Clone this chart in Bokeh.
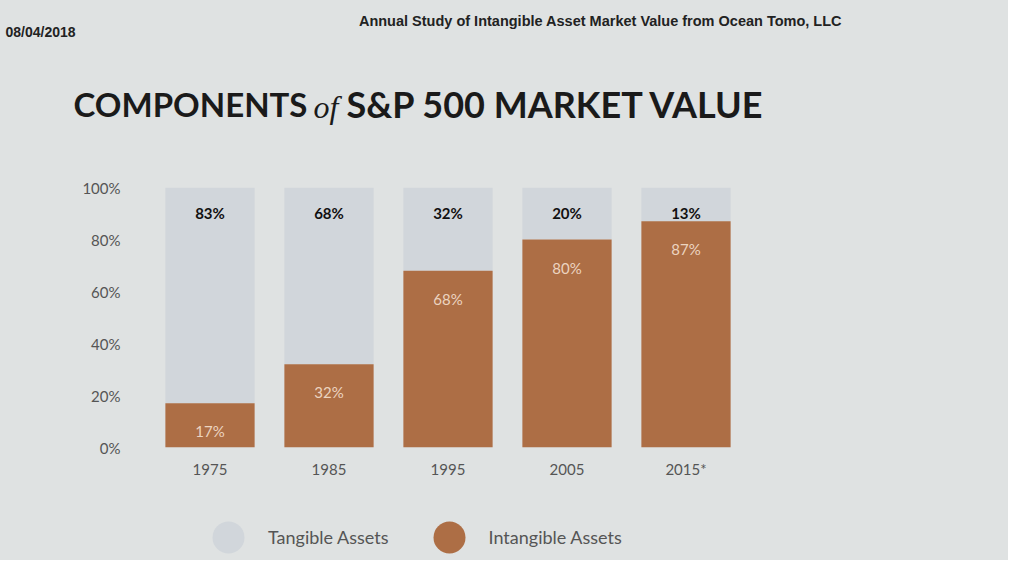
from bokeh.plotting import figure
from bokeh.layouts import column
from bokeh.models import (ColumnDataSource, FactorRange, Range1d, FixedTicker, Label,
                          Legend, LegendItem)
from bokeh.core.properties import value
from bokeh.embed import file_html
from bokeh.resources import INLINE

years = ["1975", "1985", "1995", "2005", "2015*"]
intangible = [17, 32, 68, 80, 87]
tangible = [83, 68, 32, 20, 13]
y_ticks = [0, 20, 40, 60, 80, 100]

BG = "#dfe2e2"
BROWN = "#ad6e45"
LIGHT = "#d1d6db"
W = 1008


def bare(fig):
    fig.background_fill_color = BG
    fig.border_fill_color = BG
    fig.outline_line_color = None
    fig.grid.visible = False
    fig.axis.visible = False
    return fig


# ---- header figure (texts only) ----
H_TOP = 170
top = bare(figure(width=W, height=H_TOP, x_range=Range1d(0, W), y_range=Range1d(H_TOP, 0),
                  output_backend="svg", toolbar_location=None,
                  min_border=0, min_border_left=0, min_border_right=0,
                  min_border_top=0, min_border_bottom=0))


def lab(x, y, text, **kw):
    top.add_layout(Label(x=x, y=y, text=text, text_baseline="middle", **kw))


lab(5, 31, "08/04/2018", text_font="Liberation Sans", text_font_style="bold",
    text_font_size="14px", text_color="#222222")
lab(600, 20, "Annual Study of Intangible Asset Market Value from Ocean Tomo, LLC",
    text_align="center", text_font="Liberation Sans", text_font_style="bold",
    text_font_size="14.5px", text_color="#222222")
lab(73, 103, "COMPONENTS", text_font="Lato", text_font_style="bold",
    text_font_size="33px", text_color="#1a1a1a")
lab(313, 106, "of", text_font="Liberation Serif", text_font_style="italic",
    text_font_size="32px", text_color="#1a1a1a")
lab(346, 103, "S&P 500 MARKET VALUE", text_font="Lato", text_font_style="bold",
    text_font_size="36px", text_color="#1a1a1a")

# ---- main chart ----
src = ColumnDataSource(data=dict(
    year=years,
    intangible=intangible,
    tangible=tangible,
    total=[a + b for a, b in zip(intangible, tangible)],
    ilab=[f"{v}%" for v in intangible],
    tlab=[f"{v}%" for v in tangible],
))

H_MAIN = 310
p = figure(width=W, height=H_MAIN, x_range=FactorRange(factors=years, range_padding=0),
           y_range=Range1d(0, 100), output_backend="svg", toolbar_location=None,
           min_border_left=150, min_border_right=W - 745, min_border_top=17,
           min_border_bottom=H_MAIN - 17 - 261)
p.background_fill_color = BG
p.border_fill_color = BG
p.outline_line_color = None
p.grid.visible = False

p.vbar(x="year", bottom="intangible", top="total", width=0.75, source=src,
       fill_color=LIGHT, line_color=None)
p.vbar(x="year", bottom=0, top="intangible", width=0.75, source=src,
       fill_color=BROWN, line_color=None)

p.text(x="year", y="total", text="tlab", source=src, y_offset=25,
       text_align="center", text_baseline="middle", text_font=value("Lato"),
       text_font_style="bold", text_font_size="15px", text_color="#111111")
p.text(x="year", y="intangible", text="ilab", source=src, y_offset=28,
       text_align="center", text_baseline="middle", text_font=value("Lato"),
       text_font_size="15px", text_color="#ecd4c0")

p.yaxis.ticker = FixedTicker(ticks=y_ticks)
p.yaxis.major_label_overrides = {t: f"{t}%" for t in y_ticks}
for ax in (p.xaxis, p.yaxis):
    ax.axis_line_color = None
    ax.major_tick_line_color = None
    ax.minor_tick_line_color = None
    ax.major_label_text_font = "Lato"
    ax.major_label_text_font_size = "15px"
    ax.major_label_text_color = "#555555"
p.yaxis.major_label_standoff = 24
p.xaxis.major_label_standoff = 6

# ---- legend strip ----
H_LEG = 560 - H_TOP - H_MAIN
leg = bare(figure(width=W, height=H_LEG, x_range=Range1d(0, 1), y_range=Range1d(0, 1),
                  output_backend="svg", toolbar_location=None,
                  min_border=0, min_border_left=0, min_border_right=0,
                  min_border_top=0, min_border_bottom=0))
dummy_t = leg.scatter(x=[-10], y=[-10], marker="circle", fill_color=LIGHT, line_color=None)
dummy_i = leg.scatter(x=[-10], y=[-10], marker="circle", fill_color=BROWN, line_color=None)
legend = Legend(items=[LegendItem(label="Tangible Assets", renderers=[dummy_t]),
                       LegendItem(label="Intangible Assets", renderers=[dummy_i])],
                orientation="horizontal", location=(188, -17),
                glyph_width=80, glyph_height=80, label_standoff=0, spacing=20,
                padding=0, margin=0, border_line_color=None, background_fill_alpha=0,
                label_text_font="Lato", label_text_font_size="18px",
                label_text_color="#555555")
leg.add_layout(legend, "center")

layout = column(column(top), column(p), column(leg), spacing=0,
                styles={"background-color": BG})
open("out.html", "w").write(file_html(layout, INLINE))
